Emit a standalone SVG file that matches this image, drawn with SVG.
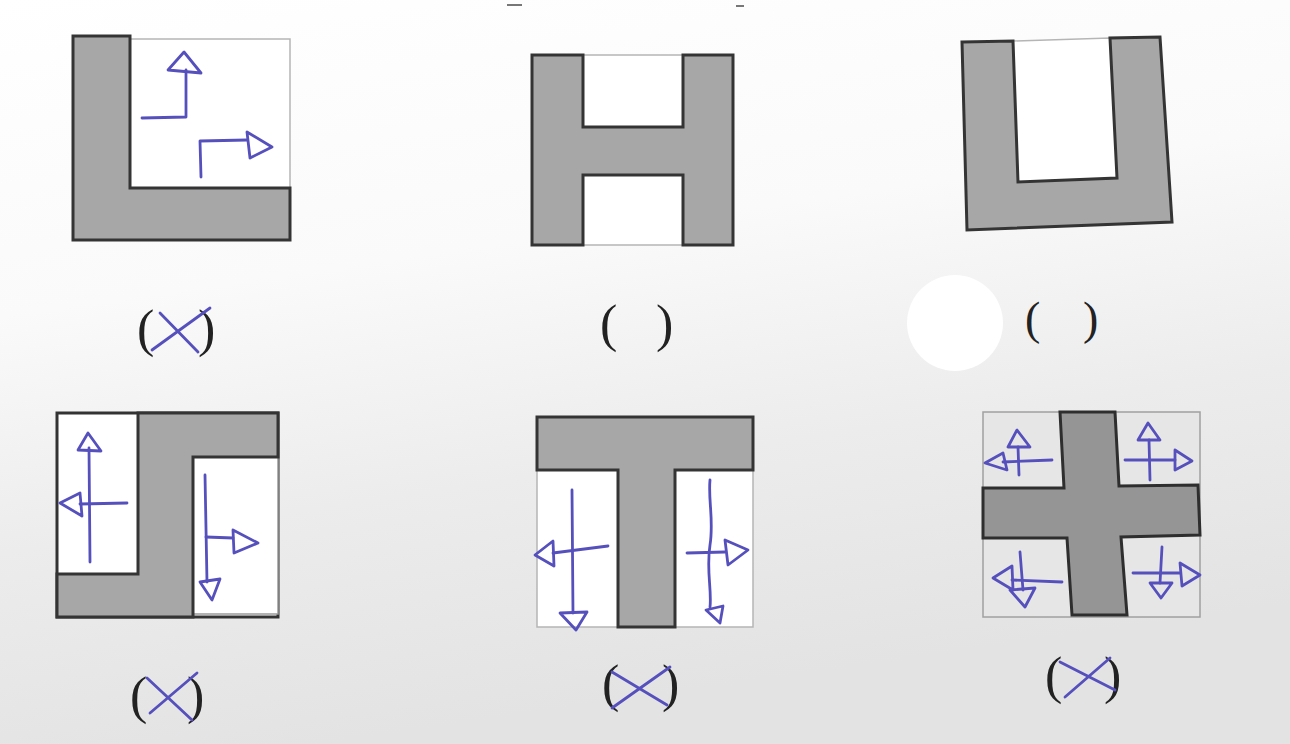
<svg xmlns="http://www.w3.org/2000/svg" width="1290" height="744" viewBox="0 0 1290 744">
<defs>
<linearGradient id="bg" x1="0" y1="0" x2="0.25" y2="1">
<stop offset="0" stop-color="#ffffff"/>
<stop offset="0.4" stop-color="#fafafa"/>
<stop offset="0.7" stop-color="#ececec"/>
<stop offset="1" stop-color="#e3e3e3"/>
</linearGradient>
<style>
.gray{fill:#a7a7a7;stroke:#343434;stroke-width:3;stroke-linejoin:miter}
.gray2{fill:#959595;stroke:#2e2e2e;stroke-width:3}
.hole{fill:#ffffff;stroke:#b5b5b5;stroke-width:1.5}
.hole2{fill:#e6e6e6;stroke:#a0a0a0;stroke-width:1.5}
.ink{fill:none;stroke:#5650bd;stroke-width:2.8;stroke-linecap:round;stroke-linejoin:round}
.lbl{font-family:"Liberation Serif","Times New Roman",serif;font-size:52px;fill:#222}
</style>
</defs>
<rect x="0" y="0" width="1290" height="744" fill="url(#bg)"/>
<circle cx="955" cy="323" r="48" fill="#ffffff"/>
<path d="M507 5 L522 5 M736 6 L744 6" stroke="#777" stroke-width="2"/>

<g id="fig-L">
<rect class="hole" x="130" y="39" width="160" height="150"/>
<polygon class="gray" points="73,36 130,36 130,188 290,188 290,240 73,240"/>
<g class="ink">
<polyline points="142,118 186,117 186,70"/>
<polygon points="184,52 168,70 201,73"/>
<polyline points="201,177 200,141 247,140"/>
<polygon points="247,132 272,147 250,158"/>
</g>
</g>

<g id="fig-H">
<rect class="hole" x="583" y="55" width="100" height="190"/>
<polygon class="gray" points="532,55 583,55 583,127 683,127 683,55 733,55 733,245 683,245 683,175 583,175 583,245 532,245"/>
</g>

<g id="fig-U">
<polygon class="hole" points="1013,41 1110,38 1117,178 1018,182"/>
<polygon class="gray" points="962,42 1013,41 1018,182 1117,178 1110,38 1160,37 1172,222 967,230"/>
</g>

<g id="fig-S">
<rect x="57" y="413" width="221" height="204" fill="#ffffff" stroke="#333" stroke-width="3"/>
<rect x="193" y="457" width="85" height="157" fill="#ffffff" stroke="#9a9a9a" stroke-width="1.5"/>
<polygon class="gray" points="138,413 278,413 278,457 193,457 193,617 57,617 57,574 138,574"/>
<g class="ink">
<line x1="90" y1="562" x2="89" y2="448"/>
<polygon points="88,433 78,450 101,451"/>
<line x1="127" y1="503" x2="80" y2="504"/>
<polygon points="60,503 80,493 82,516"/>
<line x1="205" y1="475" x2="207" y2="582"/>
<polygon points="200,582 220,579 212,600"/>
<line x1="206" y1="537" x2="233" y2="538"/>
<polygon points="233,530 258,543 234,553"/>
</g>
</g>

<g id="fig-T">
<rect class="hole" x="537" y="470" width="81" height="157"/>
<rect class="hole" x="675" y="470" width="78" height="157"/>
<polygon class="gray" points="537,417 753,417 753,470 675,470 675,627 618,627 618,470 537,470"/>
<g class="ink">
<line x1="572" y1="490" x2="573" y2="613"/>
<polygon points="560,613 587,612 576,630"/>
<line x1="608" y1="546" x2="553" y2="553"/>
<polygon points="535,555 553,541 554,566"/>
<path d="M710,480 C708,500 714,520 710,545 C706,570 712,590 710,607"/>
<polygon points="706,610 723,606 720,623"/>
<line x1="687" y1="553" x2="725" y2="552"/>
<polygon points="725,540 748,550 728,565"/>
</g>
</g>

<g id="fig-cross">
<rect class="hole2" x="983" y="412" width="217" height="205"/>
<polygon class="gray2" points="1060,412 1115,412 1119,486 1198,485 1200,535 1121,537 1127,615 1072,615 1067,538 983,538 983,488 1064,488"/>
<g class="ink">
<line x1="1052" y1="460" x2="1003" y2="462"/>
<polygon points="985,463 1003,453 1007,470"/>
<line x1="1019" y1="475" x2="1018" y2="447"/>
<polygon points="1017,430 1008,447 1030,447"/>
<line x1="1150" y1="480" x2="1149" y2="440"/>
<polygon points="1148,423 1138,440 1160,440"/>
<line x1="1125" y1="460" x2="1175" y2="460"/>
<polygon points="1175,450 1192,461 1175,470"/>
<line x1="1062" y1="582" x2="1012" y2="580"/>
<polygon points="993,578 1012,566 1013,590"/>
<line x1="1020" y1="552" x2="1023" y2="590"/>
<polygon points="1010,590 1035,588 1025,607"/>
<line x1="1133" y1="573" x2="1180" y2="573"/>
<polygon points="1180,563 1200,575 1182,586"/>
<line x1="1162" y1="547" x2="1160" y2="583"/>
<polygon points="1150,583 1172,583 1161,598"/>
</g>
</g>

<g id="labels">
<g id="label-1">
<text class="lbl"><tspan x="137" y="346">(</tspan><tspan x="198" y="346">)</tspan></text>
<path class="ink" d="M160,313 L198,352 M152,350 L210,308"/>
</g>
<g id="label-2">
<text class="lbl"><tspan x="600" y="341">(</tspan><tspan x="656" y="341">)</tspan></text>
</g>
<g id="label-3">
<text class="lbl" style="font-size:46px"><tspan x="1025" y="334">(</tspan><tspan x="1083" y="334">)</tspan></text>
</g>
<g id="label-4">
<text class="lbl"><tspan x="130" y="713">(</tspan><tspan x="187" y="713">)</tspan></text>
<path class="ink" d="M147,678 L192,720 M150,713 L197,673"/>
</g>
<g id="label-5">
<text class="lbl"><tspan x="602" y="701">(</tspan><tspan x="662" y="701">)</tspan></text>
<path class="ink" d="M612,672 L667,705 M612,708 L670,667"/>
</g>
<g id="label-6">
<text class="lbl"><tspan x="1045" y="693">(</tspan><tspan x="1104" y="693">)</tspan></text>
<path class="ink" d="M1060,662 L1115,690 M1065,697 L1110,658"/>
</g>
</g>
</svg>
